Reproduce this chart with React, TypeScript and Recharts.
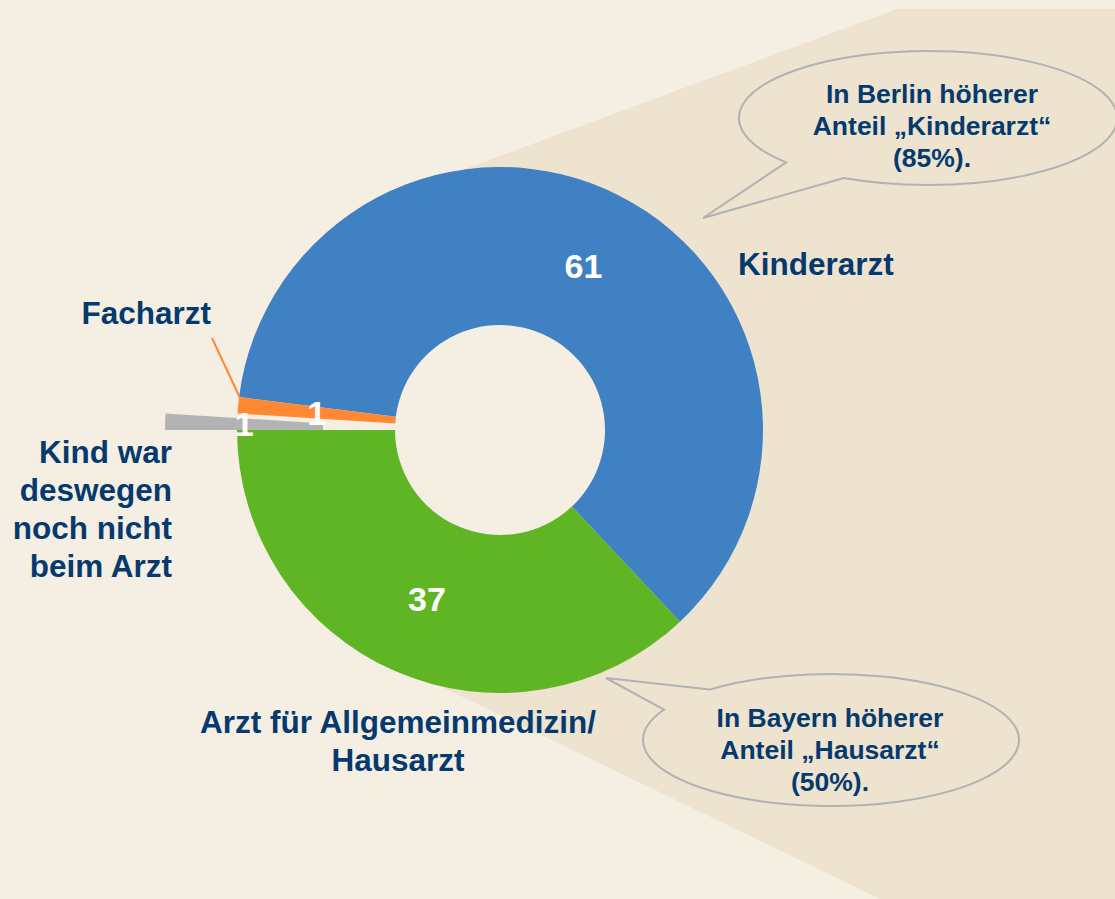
import React from 'react';
import { PieChart, Pie, Cell } from 'recharts';

// Anteile in Prozent, Reihenfolge im Uhrzeigersinn ab Kinderarzt
const categories = [
  'Kinderarzt',
  'Arzt für Allgemeinmedizin/\nHausarzt',
  'Kind war\ndeswegen\nnoch nicht\nbeim Arzt',
  'Facharzt',
];
const values = [61, 37, 1, 1];

const calloutBerlin = ['In Berlin höherer', 'Anteil „Kinderarzt“', '(85%).'];
const calloutBayern = ['In Bayern höherer', 'Anteil „Hausarzt“', '(50%).'];

const data = categories.map((name, i) => ({ name, value: values[i] }));

const COLORS = ['#3F81C3', '#5FB524', '#B3B3B3', '#FF8833'];
const NAVY = '#053A6F';
const BG_LIGHT = '#F5EEE3';
const BG_DARK = '#EDE3CE';
const FONT = '"Liberation Sans", Arial, sans-serif';
const RAD = Math.PI / 180;

const CX = 500;
const CY = 430;
const INNER = 105;
const OUTER = 263;
const START = 172.8;
const GRAY_SHIFT = 72; // herausgezogenes Segment

// where the category names sit
const nameLayout = [
  { x: 738, y: 275, anchor: 'start' },
  { x: 398, y: 733, anchor: 'middle' },
  { x: 172, y: 463, anchor: 'end' },
  { x: 211, y: 324, anchor: 'end' },
];

const numberLabel = (p: any) => {
  const r = (p.innerRadius + p.outerRadius) / 2;
  const x = p.cx + r * Math.cos(-p.midAngle * RAD);
  const y = p.cy + r * Math.sin(-p.midAngle * RAD);
  return (
    <text x={x} y={y} fill="#fff" textAnchor="middle" dominantBaseline="central"
      fontFamily={FONT} fontWeight="bold" fontSize={34}>
      {values[p.index]}
    </text>
  );
};

const mainLabel = (p: any) => {
  const pos = nameLayout[p.index];
  const lines = categories[p.index].split('\n');
  return (
    <g key={`lbl-${p.index}`}>
      {p.index !== 2 && numberLabel(p)}
      {p.index === 3 && <line x1={212} y1={338} x2={240} y2={398} stroke={COLORS[3]} strokeWidth={2} />}
      <text x={pos.x} y={pos.y} fill={NAVY} textAnchor={pos.anchor as any}
        fontFamily={FONT} fontWeight="bold" fontSize={31.5}>
        {lines.map((l, i) => (
          <tspan key={i} x={pos.x} y={pos.y + i * 38}>{l}</tspan>
        ))}
      </text>
    </g>
  );
};

const grayLabel = (p: any) => (p.index === 2 ? numberLabel(p) : null);

function bubblePath(cx: number, cy: number, rx: number, ry: number, a1: number, a2: number, tip: number[], sweep: number) {
  const pt = (a: number) => `${cx + rx * Math.cos(a * RAD)},${cy + ry * Math.sin(a * RAD)}`;
  const A = pt(a1);
  const B = pt(a2);
  return `M${A} L${tip[0]},${tip[1]} L${B} A${rx} ${ry} 0 1 ${sweep} ${A} Z`;
}

const Bubble = ({ path, cx, y0, lines }: { path: string; cx: number; y0: number; lines: string[] }) => (
  <g>
    <path d={path} fill={BG_DARK} stroke="#B2B2B2" strokeWidth={2} />
    <text textAnchor="middle" fill={NAVY} fontFamily={FONT} fontWeight="bold" fontSize={26.5}>
      {lines.map((l, i) => (
        <tspan key={i} x={cx} y={y0 + i * 32}>{l}</tspan>
      ))}
    </text>
  </g>
);

export default function App() {
  return (
    <div style={{ position: 'absolute', left: 0, top: 0, width: 1115, height: 899, background: BG_LIGHT, overflow: 'hidden' }}>
      <svg width={1115} height={899} style={{ position: 'absolute', left: 0, top: 0 }}>
        <polygon points="500,430 462,170 897,9 1115,9 1115,899 880,899 432,682" fill={BG_DARK} />
        <circle cx={CX} cy={CY} r={INNER + 2} fill={BG_LIGHT} />
        <Bubble path={bubblePath(928, 118, 189, 67, 138.6, 116.5, [703, 218], 0)} cx={932} y0={103} lines={calloutBerlin} />
        <Bubble path={bubblePath(831, 740, 188, 66, 207.3, 229.8, [606, 678], 1)} cx={830} y0={727} lines={calloutBayern} />
      </svg>
      <div style={{ position: 'absolute', left: 0, top: 0 }}>
        <PieChart width={1115} height={899} margin={{ top: 0, right: 0, bottom: 0, left: 0 }}>
          <Pie data={data} dataKey="value" nameKey="name" cx={CX} cy={CY}
            innerRadius={INNER} outerRadius={OUTER} startAngle={START} endAngle={START - 360}
            stroke="none" label={mainLabel} labelLine={false} isAnimationActive={false}>
            {data.map((d, i) => (
              <Cell key={d.name} fill={i === 2 ? 'transparent' : COLORS[i]} />
            ))}
          </Pie>
          <Pie data={data} dataKey="value" nameKey="name" cx={CX - GRAY_SHIFT} cy={CY}
            innerRadius={INNER} outerRadius={OUTER} startAngle={START} endAngle={START - 360}
            stroke="none" label={grayLabel} labelLine={false} isAnimationActive={false}>
            {data.map((d, i) => (
              <Cell key={d.name} fill={i === 2 ? COLORS[2] : 'transparent'} />
            ))}
          </Pie>
        </PieChart>
      </div>
    </div>
  );
}
